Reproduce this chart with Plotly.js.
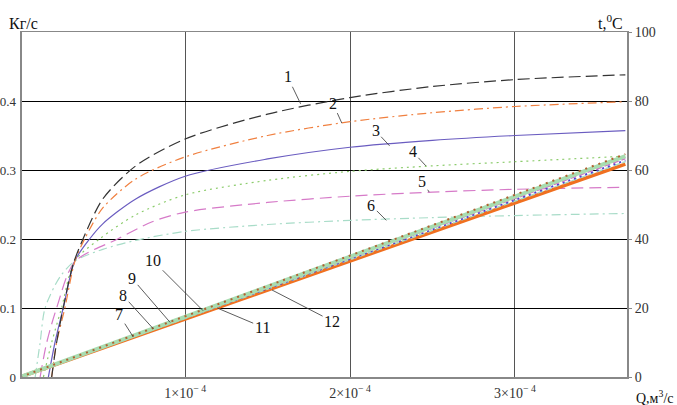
<!DOCTYPE html>
<html>
<head>
<meta charset="utf-8">
<script src="https://cdn.plot.ly/plotly-3.0.1.min.js"></script>
<style>
  body { margin: 0; background: #fff; }
  #plot { width: 677px; height: 405px; }
</style>
</head>
<body>
<div id="plot"></div>
<script>
// flow curves (left axis, кг/с), x in м3/с
var q1 = [0.19e-4, 0.22e-4, 0.26e-4, 0.32e-4, 0.38e-4, 0.5e-4, 0.7e-4, 1.0e-4, 1.5e-4, 2.0e-4, 2.5e-4, 3.0e-4, 3.67e-4];
var g1 = [0, 0.05, 0.10, 0.163, 0.20, 0.258, 0.306, 0.345, 0.381, 0.405, 0.421, 0.431, 0.438];

var q2 = [0.19e-4, 0.22e-4, 0.27e-4, 0.33e-4, 0.39e-4, 0.5e-4, 0.7e-4, 1.0e-4, 1.5e-4, 2.0e-4, 2.5e-4, 3.0e-4, 3.67e-4];
var g2 = [0, 0.05, 0.10, 0.167, 0.20, 0.245, 0.287, 0.319, 0.350, 0.370, 0.383, 0.392, 0.399];

var q3 = [0.17e-4, 0.21e-4, 0.26e-4, 0.33e-4, 0.42e-4, 0.5e-4, 0.7e-4, 1.0e-4, 1.5e-4, 2.0e-4, 2.5e-4, 3.0e-4, 3.67e-4];
var g3 = [0, 0.05, 0.10, 0.168, 0.20, 0.222, 0.258, 0.291, 0.316, 0.333, 0.343, 0.350, 0.357];

var q4 = [0.14e-4, 0.19e-4, 0.25e-4, 0.33e-4, 0.48e-4, 0.7e-4, 1.0e-4, 1.5e-4, 2.0e-4, 2.5e-4, 3.0e-4, 3.67e-4];
var g4 = [0, 0.05, 0.10, 0.168, 0.20, 0.235, 0.264, 0.285, 0.298, 0.306, 0.312, 0.320];

var q5 = [0.12e-4, 0.16e-4, 0.22e-4, 0.33e-4, 0.59e-4, 0.8e-4, 1.0e-4, 1.5e-4, 2.0e-4, 2.5e-4, 3.0e-4, 3.67e-4];
var g5 = [0, 0.05, 0.10, 0.167, 0.20, 0.225, 0.239, 0.253, 0.262, 0.268, 0.272, 0.275];

var q6 = [0.09e-4, 0.12e-4, 0.15e-4, 0.24e-4, 0.33e-4, 0.5e-4, 0.7e-4, 1.0e-4, 1.5e-4, 2.0e-4, 2.5e-4, 3.0e-4, 3.67e-4];
var g6 = [0, 0.05, 0.10, 0.145, 0.168, 0.185, 0.198, 0.211, 0.221, 0.227, 0.231, 0.234, 0.237];

// temperature curves (right axis, °C)
var qt = [0, 1e-4, 2e-4, 3e-4, 3.67e-4];
var t7 = [0, 17.6, 35.2, 52.7, 64.6];
var t8 = [0, 17.4, 34.8, 52.2, 64.0];
var t9 = [0, 17.2, 34.4, 51.7, 63.3];
var t10 = [0, 17.1, 34.2, 51.3, 62.8];
var t11 = [0, 17.0, 34.0, 51.0, 62.4];
var t12 = [0, 16.8, 33.6, 50.3, 61.7];

var xTicks = [0, 1e-4, 2e-4, 3e-4];
var xTickText = ["0", "1×10<sup>− 4</sup>", "2×10<sup>− 4</sup>", "3×10<sup>− 4</sup>"];
var yTicks = [0, 0.1, 0.2, 0.3, 0.4];
var yTickText = ["0", "0.1", "0.2", "0.3", "0.4"];
var y2Ticks = [0, 20, 40, 60, 80, 100];

var serif = 'Liberation Serif, Times New Roman, serif';

function flow(x, y, color, dash) {
  return { x: x, y: y, mode: 'lines', line: { color: color, width: 1.2, dash: dash, shape: 'spline', smoothing: 0.8 }, hoverinfo: 'skip' };
}
function temp(x, y, color, width, dash) {
  return { x: x, y: y, yaxis: 'y2', mode: 'lines', line: { color: color, width: width, dash: dash }, hoverinfo: 'skip' };
}

var data = [
  flow(q6, g6, '#a8dcc8', '9px,4px,2px,4px'),
  flow(q5, g5, '#d67ac8', '12px,6px'),
  flow(q4, g4, '#8ccc6c', '2px,4px'),
  flow(q3, g3, '#6a5cc0', 'solid'),
  flow(q2, g2, '#f08040', '9px,4px,2px,4px'),
  flow(q1, g1, '#333333', '12px,5px'),
  temp(qt, t12, '#f07020', 3.5, 'solid'),
  temp(qt, t11, '#a8dcc8', 1.5, '6px,3px'),
  temp(qt, t10, '#5040d0', 2, '2px,4px'),
  temp(qt, t9, '#d070c0', 1.5, '6px,3px'),
  temp(qt, t8, '#a8dcb0', 4, 'solid'),
  temp(qt, t7, '#b06030', 2, '2px,5px')
];

var labelFont = { family: serif, size: 16, color: '#111' };
function lbl(text, x, y, ax, ay) {
  return { text: text, x: x, y: y, xref: 'x', yref: 'y', ax: ax, ay: ay,
    showarrow: true, arrowhead: 0, arrowwidth: 0.8, arrowcolor: '#333', font: labelFont };
}

var layout = {
  width: 677, height: 405,
  margin: { l: 22, r: 50, t: 32, b: 28 },
  paper_bgcolor: '#fff', plot_bgcolor: '#fff',
  showlegend: false,
  font: { family: serif, size: 13, color: '#222' },
  xaxis: {
    range: [0.01e-4, 3.68e-4],
    tickvals: xTicks, ticktext: xTickText,
    showgrid: true, gridcolor: '#555', gridwidth: 1,
    zeroline: false,
    showline: true, mirror: true, linecolor: '#888', linewidth: 1.5,
    ticks: '', ticklabelstandoff: 3,
    tickfont: { family: serif, size: 14, color: '#333' }
  },
  yaxis: {
    range: [0, 0.5],
    tickvals: yTicks, ticktext: yTickText,
    showgrid: true, gridcolor: '#000', gridwidth: 1,
    zeroline: true, zerolinecolor: '#222', zerolinewidth: 1.2,
    showline: true, linecolor: '#888', linewidth: 2.5,
    ticks: '', ticklabelstandoff: 1,
    tickfont: { family: serif, size: 13, color: '#333' }
  },
  yaxis2: {
    range: [0, 100], overlaying: 'y', side: 'right',
    tickvals: y2Ticks,
    showgrid: false, zeroline: false,
    showline: true, linecolor: '#888', linewidth: 2,
    ticks: 'outside', ticklen: 3, tickcolor: '#888',
    ticklabelstandoff: 0,
    tickfont: { family: serif, size: 14, color: '#333' }
  },
  annotations: [
    { text: 'Кг/с', xref: 'paper', yref: 'paper', x: -0.025, y: 0.995, xanchor: 'left', yanchor: 'bottom', showarrow: false,
      font: { family: serif, size: 16, color: '#111' } },
    { text: 't,<sup>0</sup>C', xref: 'paper', yref: 'paper', x: 0.996, y: 0.995, xanchor: 'right', yanchor: 'bottom', showarrow: false,
      font: { family: serif, size: 16, color: '#111' } },
    { text: 'Q,м<sup>3</sup>/с', xref: 'paper', yref: 'paper', x: 1.081, y: -0.025, xanchor: 'right', yanchor: 'top', showarrow: false,
      font: { family: serif, size: 14, color: '#111' } },
    lbl('1', 1.70e-4, 0.396, -13, -27),
    lbl('2', 1.95e-4, 0.368, -9, -20),
    lbl('3', 2.24e-4, 0.335, -14, -15),
    lbl('4', 2.46e-4, 0.306, -13, -14),
    lbl('5', 2.48e-4, 0.268, -7, -11),
    lbl('6', 2.22e-4, 0.227, -15, -15),
    lbl('7', 0.685e-4, 0.058, -14, -22),
    lbl('8', 0.806e-4, 0.070, -30, -33),
    lbl('9', 0.909e-4, 0.079, -38, -44),
    lbl('10', 1.109e-4, 0.096, -50, -50),
    lbl('11', 1.194e-4, 0.100, 45, 19),
    lbl('12', 1.527e-4, 0.126, 60, 31)
  ]
};

Plotly.newPlot('plot', data, layout, { staticPlot: true, displayModeBar: false });
</script>
</body>
</html>
